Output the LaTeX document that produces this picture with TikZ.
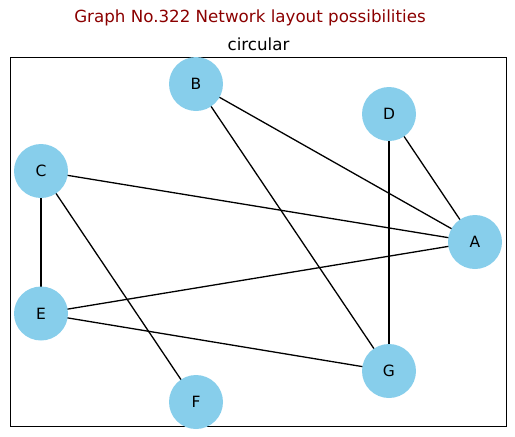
\documentclass[tikz,border=0pt]{standalone}
\usepackage{fontspec}
\setmainfont{DejaVu Sans}
\definecolor{nodeblue}{HTML}{87CEEB}
\definecolor{titlered}{HTML}{8B0000}
\pgfdeclarelayer{edges}
\pgfsetlayers{edges,main}
\tikzset{
  vertex/.style={circle, fill=nodeblue, minimum size=54pt, inner sep=0pt,
    font=\fontsize{15.5}{18}\selectfont},
  link/.style={draw=black, line width=1.3pt},
  frame/.style={draw=black, line width=1.1pt},
  heading/.style={anchor=base, inner sep=0pt, font=\fontsize{16.7}{20}\selectfont}
}
\begin{document}
\begin{tikzpicture}[x=1pt, y=-1pt]
  \useasboundingbox (0,0) rectangle (515,437);
  % titles
  \node[heading, text=titlered] (title) at (250,22.3) {Graph No.322 Network layout possibilities};
  \node[heading] (sub) at (258.5,50) {circular};
  % axes frame
  \draw[frame] (10.3,57.3) rectangle (506.7,426.7);
  % vertices
  \node[vertex] (A) at (475,242) {A};
  \node[vertex] (B) at (196,84) {B};
  \node[vertex] (C) at (41,171) {C};
  \node[vertex] (D) at (389,114) {D};
  \node[vertex] (E) at (41,313.5) {E};
  \node[vertex] (F) at (196,402) {F};
  \node[vertex] (G) at (389,371) {G};
  % edges, drawn beneath the vertices
  \begin{pgfonlayer}{edges}
    \foreach \u/\v in {B/A, B/G, C/A, C/E, C/F, D/A, D/G, E/A, E/G}{
      \path[link] (\u.center) -- (\v.center);
    }
  \end{pgfonlayer}
\end{tikzpicture}
\end{document}
